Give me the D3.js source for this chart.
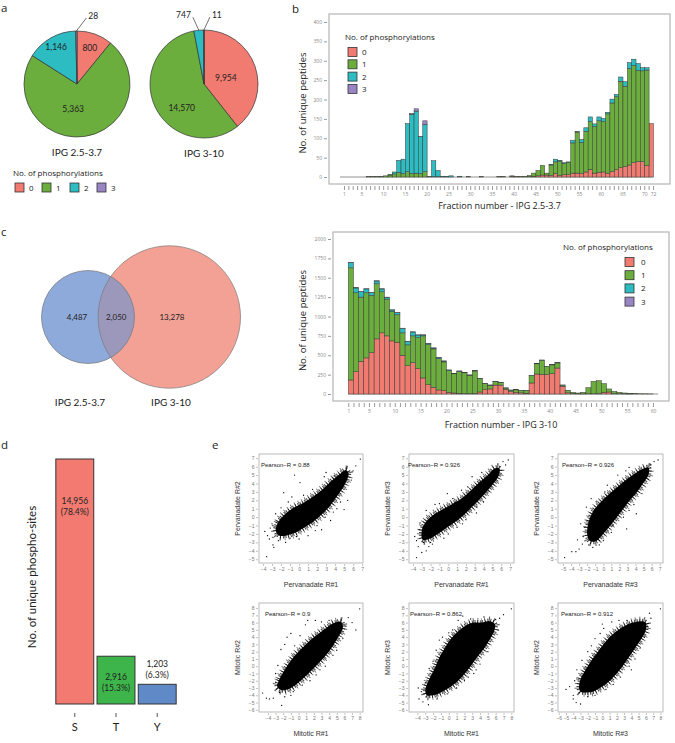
<!DOCTYPE html>
<html>
<head>
<meta charset="utf-8">
<script src="https://cdn.jsdelivr.net/npm/d3@7"></script>
<style>
body { margin: 0; background: #fff; }
svg { display: block; }
</style>
</head>
<body>
<svg id="fig" width="675" height="743"></svg>
<script>
// ---- data ----
const phosLevels = ["0", "1", "2", "3"];

// a: pies (peptides by no. of phosphorylations)
const pieNarrow = [800, 5363, 1146, 28];
const pieWide = [9954, 14570, 747, 11];
const pieTitles = ["IPG 2.5-3.7", "IPG 3-10"];

// b: IPG 2.5-3.7, fractions 1..72, one array per no. of phosphorylations
const narrowP0 = [0,0,0,0,0,0,0,0,0,0, 0,0,0,0,0,0,0,0,0,0, 0,0,0,0,0,0,0,0,0,0, 0,0,0,0,0,0,0,0,0,2,
  1,0,1,1,2,3,5,5,4,9, 4,6,6,10,10,9,13,20,10,12, 13,10,14,19,24,27,31,37,40,40, 29,138];
const narrowP1 = [0,0,0,0,0,0,1,1,1,2, 3,5,8,12,9,14,9,10,9,14, 1,1,1,1,1,0,0,0,0,1, 0,0,1,0,0,0,1,1,0,1,
  0,1,1,3,8,14,25,5,27,30, 37,29,32,78,106,80,105,123,120,133, 130,153,177,188,223,207,249,251,235,234, 247,0];
const narrowP2 = [0,0,0,0,0,0,0,0,0,0, 0,1,5,31,37,124,153,160,95,122, 0,41,16,1,1,3,0,2,0,0, 0,0,0,0,0,0,0,0,0,0,
  0,0,0,0,0,0,0,0,2,7, 2,2,1,7,1,8,9,12,7,10, 8,4,10,6,11,12,15,16,18,8, 6,0];
const narrowP3 = [0,0,0,0,0,0,0,0,0,0, 0,0,0,0,0,0,2,6,1,9, 0,0,0,0,0,0,0,0,0,0, 0,0,0,0,0,0,0,0,0,0,
  0,0,0,0,0,0,0,0,0,0, 0,0,0,0,0,0,0,0,0,0, 0,0,0,0,0,0,0,0,0,0, 0,0];
const narrowTickLabels = [1, 5, 10, 15, 20, 25, 30, 35, 40, 45, 50, 55, 60, 65, 70, 72];

// b: IPG 3-10, fractions 1..60
const wideP0 = [181,289,422,466,534,711,789,750,685,668, 500,366,405,328,207,121,86,52,43,22,
  13,9,4,4,6,26,56,65,115,115, 60,30,20,15,10,142,258,254,250,262, 335,100,15,5,2,2,3,3,5,22,
  26,5,3,2,1,0,0,0,0,0];
const wideP1 = [1447,1017,828,840,738,711,530,474,380,354, 289,268,345,400,543,517,496,405,371,281,
  248,281,270,237,291,173,78,48,46,31, 16,19,34,29,35,97,132,182,105,114, 66,15,27,17,11,20,79,160,167,111,
  39,29,19,11,7,5,3,2,1,0];
const wideP2 = [70,62,70,50,36,36,36,24,19,28, 57,45,50,33,12,15,11,15,11,6,
  5,6,5,4,4,3,3,2,3,3, 4,3,6,3,2,2,2,3,2,2, 3,1,1,0,0,0,0,0,0,0, 0,0,0,0,0,0,0,0,0,0];
const wideP3 = [2,3,3,2,2,3,3,2,2,2, 3,2,2,2,1,2,2,2,2,1, 1,1,1,1,1,1,1,1,1,1,
  0,0,0,0,0,0,0,0,0,0, 0,0,0,0,0,0,0,0,0,0, 0,0,0,0,0,0,0,0,0,0];
const wideTickLabels = [1, 5, 10, 15, 20, 25, 30, 35, 40, 45, 50, 55, 60];

// c: Venn of unique phospho-peptides
const vennCounts = [4487, 2050, 13278]; // only narrow, shared, only wide

// d: phospho-sites by residue
const siteResidues = ["S", "T", "Y"];
const siteCounts = [14956, 2916, 1203];
const sitePercents = ["78.4%", "15.3%", "6.3%"];

// e: replicate correlations; dense core outline + sparse points
const pearsonR = [0.88, 0.926, 0.926, 0.9, 0.862, 0.912];
const scatterXTitles = ["Pervanadate R#1", "Pervanadate R#1", "Pervanadate R#3", "Mitotic R#1", "Mitotic R#1", "Mitotic R#3"];
const scatterYTitles = ["Pervanadate R#2", "Pervanadate R#3", "Pervanadate R#2", "Mitotic R#2", "Mitotic R#3", "Mitotic R#2"];

const pvCore12 = [[-2.6,-1.6],[-2.3,-0.6],[-1.6,0.3],[-0.6,1.1],[0.5,1.7],[1.5,2.4],[2.5,3.2],[3.5,4.2],[4.5,5.1],[5.2,5.6],
  [5.5,5.2],[5.1,3.9],[4.3,2.6],[3.4,1.3],[2.5,0.3],[1.5,-0.6],[0.5,-1.3],[-0.5,-1.9],[-1.5,-2.2],[-2.2,-2.2]];
const pvDots12 = [[-3.6,-4.7],[-2.9,-3.3],[-2.8,-3.6],[-3.5,-2.2],[-3.8,-1.7],[-3.2,-1.3],[-2.9,-2.4],[-1.5,-3.0],[-1.7,2.9],[0.1,4.1],
  [-0.5,5.0],[6.3,6.1],[6.8,6.9],[4.2,1.0],[5.0,0.9],[3.8,0.6],[2.5,-1.5],[3.5,-0.4],[1.0,-2.2],[0.0,-2.6],
  [-1.0,-2.5],[2.8,4.8],[1.5,3.3],[3.0,5.3],[5.4,2.0],[4.6,1.8],[-0.8,2.4],[-2.0,1.1],[-3.0,-0.8],[-2.6,0.4],
  [2.0,-1.0],[5.8,4.4],[6.0,5.5],[-2.3,-2.8],[-1.2,1.8],[0.5,2.6],[3.9,4.9],[4.4,3.2],[2.9,0.0],[-0.3,-2.3],[1.8,-1.6],[-3.3,-2.6]];
const pvCore13 = [[-3.0,-1.6],[-2.5,-0.5],[-1.5,0.4],[-0.5,1.0],[0.5,1.6],[1.5,2.2],[2.5,3.1],[3.5,4.1],[4.5,5.0],[5.3,5.8],
  [5.8,5.8],[5.7,4.9],[4.9,3.7],[3.9,2.5],[2.9,1.4],[1.9,0.4],[0.9,-0.5],[-0.1,-1.2],[-1.2,-2.0],[-2.2,-2.6],[-2.9,-2.7]];
const pvDots13 = [[-3.6,-4.8],[-3.0,-4.2],[-2.5,-4.0],[-3.4,-3.5],[-3.8,-2.3],[-3.6,-2.8],[-2.2,-3.5],[-1.8,-3.2],[-0.1,2.8],[2.7,4.8],
  [6.2,6.6],[6.8,6.8],[6.5,6.2],[4.0,1.8],[3.2,1.2],[2.0,-0.3],[1.0,-1.2],[-0.5,-2.5],[-1.5,1.5],[-2.5,0.8],
  [-3.2,-0.7],[1.5,3.2],[3.8,5.3],[5.0,4.2],[4.5,3.0],[-2.0,-3.0],[0.0,-2.0],[-3.3,-1.5],[-2.8,-3.0],[-1.0,1.6],
  [0.5,2.2],[2.2,3.6],[3.2,0.5],[1.6,-0.8]];
const pvCore32 = [[-2.0,-2.0],[-1.8,-0.5],[-1.2,0.8],[-0.3,1.8],[0.8,2.8],[1.8,3.6],[2.8,4.4],[3.8,5.1],[4.8,5.7],[5.6,5.9],
  [5.6,5.0],[5.0,4.1],[4.2,3.0],[3.3,2.0],[2.5,1.0],[1.6,-0.1],[0.7,-1.2],[-0.2,-2.2],[-1.0,-2.9],[-1.7,-2.8]];
const pvDots32 = [[-4.8,-4.8],[-3.9,-4.1],[-3.4,-4.1],[-3.0,-3.8],[-2.6,-3.2],[-2.8,-0.8],[-2.5,-2.3],[-1.3,-3.6],[-2.1,1.2],[-1.5,2.2],
  [0.5,3.8],[1.8,5.0],[2.8,5.5],[3.2,5.9],[6.3,6.6],[6.8,6.8],[5.9,6.2],[4.1,0.4],[3.2,0.8],[2.9,-1.4],
  [3.8,1.5],[2.5,0.0],[1.0,-1.8],[0.0,-2.8],[-0.5,-3.3],[4.8,2.8],[-3.2,-2.7],[-2.3,-1.2],[-0.8,1.9],[0.2,3.0],[1.2,-1.0],[-1.8,-3.3]];
const miCore12 = [[-2.8,-2.8],[-2.5,-1.8],[-1.8,-0.5],[-1.0,0.8],[-0.2,1.8],[0.8,2.8],[1.8,3.8],[2.8,4.6],[3.8,5.4],[4.8,6.0],
  [5.6,6.1],[5.8,5.3],[5.3,4.2],[4.6,3.0],[3.8,1.8],[2.8,0.6],[1.8,-0.5],[0.8,-1.5],[-0.2,-2.4],[-1.2,-3.1],[-2.2,-3.3]];
const miDots12 = [[-4.2,-4.4],[-3.8,-4.5],[-3.3,-4.4],[-4.7,-3.7],[-2.2,-5.4],[-3.0,-2.2],[-2.7,0.1],[-3.0,-1.0],[-2.3,2.3],[-1.8,3.0],
  [-1.5,4.0],[-1.0,4.5],[1.2,6.3],[0.9,5.7],[2.2,6.3],[3.0,6.1],[6.5,6.7],[7.0,6.0],[7.5,5.0],[8.0,7.9],
  [4.5,1.5],[5.0,2.2],[3.5,0.0],[2.3,-1.2],[1.5,-2.0],[0.5,-2.6],[-0.7,-3.5],[-1.0,-4.0],[-2.5,-3.6],[-0.5,2.8],
  [0.2,4.2],[6.2,5.5],[5.8,3.8],[-1.8,-4.2],[4.0,6.3],[2.8,-0.5]];
const miCore13 = [[-3.0,-3.3],[-2.5,-1.8],[-1.8,-0.3],[-1.2,1.2],[-0.5,2.5],[0.3,3.8],[1.2,4.8],[2.2,5.6],[3.2,6.0],[4.2,6.0],
  [5.2,6.2],[5.9,5.8],[5.8,4.8],[5.2,3.6],[4.5,2.4],[3.6,1.2],[2.8,0.0],[1.9,-1.2],[1.0,-2.2],[0.0,-3.0],[-1.0,-3.6],[-2.0,-4.0],[-2.8,-4.0]];
const miDots13 = [[-3.8,-4.5],[-3.3,-4.9],[-2.6,-5.3],[-3.0,-2.3],[-2.5,-0.3],[-2.0,0.7],[-1.2,3.6],[-0.8,4.0],[0.5,5.0],[1.2,6.3],
  [1.8,6.9],[2.8,6.5],[4.5,6.8],[6.5,6.6],[7.0,7.1],[8.0,7.9],[5.0,2.0],[4.0,0.3],[3.2,-1.0],[2.0,-2.0],
  [1.0,-3.0],[-0.2,-3.8],[-1.5,-4.5],[-3.5,-3.5],[-2.5,-3.0],[6.3,5.0],[3.5,-0.5],[-1.6,2.2],[0.0,4.6],[2.5,-1.5],[-3.9,-3.0],[6.0,6.4]];
const miCore32 = [[-3.2,-3.0],[-3.0,-1.8],[-2.3,-0.5],[-1.5,0.8],[-0.6,2.0],[0.3,3.2],[1.2,4.2],[2.2,5.0],[3.2,5.6],[4.2,6.0],
  [5.2,6.2],[6.0,6.0],[6.0,5.0],[5.4,3.8],[4.6,2.6],[3.7,1.3],[2.8,0.0],[1.8,-1.2],[0.8,-2.2],[-0.3,-3.0],[-1.3,-3.5],[-2.3,-3.6],[-3.0,-3.5]];
const miDots32 = [[-5.0,-3.2],[-4.0,-4.0],[-4.0,-4.5],[-3.6,-5.0],[-3.0,-5.2],[-4.5,-2.8],[-3.8,-2.0],[-2.8,0.8],[-2.0,2.0],[-1.5,2.8],
  [-1.0,3.8],[0.2,5.2],[1.3,6.1],[2.3,6.3],[3.4,6.3],[6.5,7.3],[6.7,6.6],[8.0,7.9],[5.2,2.5],[4.5,1.0],
  [3.7,0.0],[2.5,-1.5],[1.5,-2.5],[0.5,-3.2],[-1.0,-4.0],[-2.0,-4.2],[6.2,5.5],[4.0,-0.5],[0.0,5.8],[-3.5,-0.5],[-0.3,4.5],[5.8,4.0]];

// ---- style ----
const phosColors = ["#f27b71", "#6cae3d", "#2cbcc2", "#9a85c4"];
const myriad = "'Open Sans', 'Noto Sans', sans-serif";
const calibri = "Lato, 'Open Sans', sans-serif";
const helv = "'Liberation Sans', Arial, sans-serif";
const ink = "#222";
const fmt = d3.format(",");

const svg = d3.select("#fig");

function addText(g, str, x, y, size, font, opts = {}) {
  const t = g.append("text").attr("x", x).attr("y", y).text(str)
    .attr("font-size", size).attr("font-family", font)
    .attr("fill", opts.fill || ink)
    .attr("text-anchor", opts.anchor || "start");
  if (opts.rotate) t.attr("transform", `rotate(-90,${x},${y})`);
  return t;
}

// panel letters
[["a", 1, 12], ["b", 292, 12.5], ["c", 1, 236], ["d", 1, 449], ["e", 212, 449]]
  .forEach(([l, x, y]) => addText(svg, l, x, y, 11.5, myriad));

// ---- a: pies ----
function drawPie(values, cx, cy, r, title, labelPos, callouts) {
  const g = svg.append("g").attr("transform", `translate(${cx},${cy})`);
  const arcs = d3.pie().sort(null)(values);
  const arc = d3.arc().innerRadius(0).outerRadius(r);
  g.selectAll("path").data(arcs).join("path")
    .attr("d", arc)
    .attr("fill", (d, i) => phosColors[i])
    .attr("stroke", "#333").attr("stroke-width", 0.7);
  const total = d3.sum(values);
  let k = 0;
  arcs.forEach((a, i) => {
    const mid = (a.startAngle + a.endAngle) / 2;
    if (a.value / total > 0.04) {
      const [f, shift] = labelPos[i];
      const ang = mid + shift * Math.PI / 180;
      addText(g, fmt(a.value), r * f * Math.sin(ang), -r * f * Math.cos(ang) + 3, 8.5, calibri, {anchor: "middle"});
    } else {
      const c = callouts[k++];
      const sx = r * Math.sin(mid), sy = -r * Math.cos(mid);
      g.append("line").attr("x1", sx).attr("y1", sy).attr("x2", sx + c[0]).attr("y2", sy + c[1])
        .attr("stroke", "#333").attr("stroke-width", 0.7);
      addText(g, fmt(a.value), sx + c[0] + (c[0] > 0 ? 2 : -2), sy + c[1] + 1,
        8.5, calibri, {anchor: c[0] > 0 ? "start" : "end"});
    }
  });
  addText(g, title, 0, r + 19, 10, calibri, {anchor: "middle"});
}
drawPie(pieNarrow, 77, 84, 53, pieTitles[0], [[0.72, 0], [0.47, 18], [0.8, 0]], [[10, -13]]);
drawPie(pieWide, 204, 84, 54, pieTitles[1], [[0.42, 4], [0.6, -22]], [[-6, -13], [6, -13]]);

// legend under pies
{
  const g = svg.append("g");
  addText(g, "No. of phosphorylations", 13, 176, 8, myriad);
  const bx = [15, 42, 70, 97];
  phosLevels.forEach((lv, i) => {
    g.append("rect").attr("x", bx[i]).attr("y", 183).attr("width", 9).attr("height", 9)
      .attr("fill", phosColors[i]).attr("stroke", "#333").attr("stroke-width", 0.8);
    addText(g, lv, bx[i] + 14, 191, 8, myriad);
  });
}

// ---- b: stacked bars ----
function phosLegend(x, y, boxX, gap, labelX) {
  const g = svg.append("g");
  addText(g, "No. of phosphorylations", x, y, 8, myriad);
  phosLevels.forEach((lv, i) => {
    const cy = y + 12 + i * gap;
    g.append("rect").attr("x", boxX).attr("y", cy - 4.5).attr("width", 9).attr("height", 9)
      .attr("fill", phosColors[i]).attr("stroke", "#333").attr("stroke-width", 0.8);
    addText(g, lv, labelX, cy + 3, 8, myriad);
  });
}

function stackedBars(cfg) {
  const g = svg.append("g");
  const [fx0, fx1, fy0, fy1] = cfg.frame;
  const n = cfg.layers[0].length;
  const x = d3.scaleLinear().domain([1, n]).range(cfg.xRange);
  const y = d3.scaleLinear().domain([0, cfg.yMax]).range(cfg.yRange);
  const step = x(2) - x(1);
  const rows = d3.range(n).map(i => {
    const o = {frac: i + 1};
    phosLevels.forEach((lv, j) => { o[lv] = cfg.layers[j][i]; });
    return o;
  });
  const series = d3.stack().keys(phosLevels)(rows);

  g.append("rect").attr("x", fx0).attr("y", fy0).attr("width", fx1 - fx0).attr("height", fy1 - fy0)
    .attr("fill", "none").attr("stroke", "#b5b5b5").attr("stroke-width", 1.2);

  // outline of empty fractions along zero
  g.append("line")
    .attr("x1", x(1 + cfg.shift) - step / 2).attr("x2", x(n + cfg.shift) + step / 2)
    .attr("y1", y(0)).attr("y2", y(0))
    .attr("stroke", "#777").attr("stroke-width", 0.8);

  g.selectAll("g.layer").data(series).join("g")
    .attr("class", "layer")
    .attr("fill", (d, i) => phosColors[i])
    .selectAll("rect").data(d => d.filter(v => v[1] > v[0])).join("rect")
    .attr("x", d => x(d.data.frac + cfg.shift) - step / 2)
    .attr("width", step)
    .attr("y", d => y(d[1]))
    .attr("height", d => y(d[0]) - y(d[1]))
    .attr("stroke", "#3a3a3a").attr("stroke-width", 0.5);

  const ya = g.append("g").attr("transform", `translate(${fx0 - 2},0)`)
    .call(d3.axisLeft(y).tickValues(d3.range(0, cfg.yMax + 1, cfg.yStep)).tickSize(3).tickPadding(2)
      .tickFormat(d3.format("d")));
  ya.select(".domain").remove();
  ya.selectAll("line").attr("stroke", "#999");
  ya.selectAll("text").attr("font-size", 5).attr("font-family", myriad).attr("fill", "#888");

  const xa = g.append("g").attr("transform", `translate(0,${fy1 + 2})`)
    .call(d3.axisBottom(x).tickValues(d3.range(1, n + 1)).tickSize(4).tickPadding(2)
      .tickFormat(d => cfg.xLabels.includes(d) ? d : ""));
  xa.select(".domain").remove();
  xa.selectAll("line").attr("stroke", "#999");
  xa.selectAll("text").attr("font-size", 5).attr("font-family", myriad).attr("fill", "#888");

  addText(g, cfg.xTitle, (fx0 + fx1) / 2, cfg.xTitleY, 9, myriad, {anchor: "middle"});
  addText(g, "No. of unique peptides", cfg.yTitleX, (fy0 + fy1) / 2 + 4, 9.5, myriad, {anchor: "middle", rotate: true});
}

stackedBars({
  layers: [narrowP0, narrowP1, narrowP2, narrowP3],
  frame: [329, 670, 14, 184], xRange: [344, 653], yRange: [177, 22],
  yMax: 400, yStep: 50, shift: -0.4, xLabels: narrowTickLabels,
  xTitle: "Fraction number - IPG 2.5-3.7", xTitleY: 209, yTitleX: 306
});
phosLegend(345, 40, 348, 12.3, 362);

stackedBars({
  layers: [wideP0, wideP1, wideP2, wideP3],
  frame: [333, 669, 232, 401], xRange: [348.3, 653], yRange: [394, 239],
  yMax: 2000, yStep: 250, shift: 0.5, xLabels: wideTickLabels,
  xTitle: "Fraction number - IPG 3-10", xTitleY: 428, yTitleX: 306
});
phosLegend(563, 250, 625, 13.2, 641);

// ---- c: Venn ----
{
  const g = svg.append("g");
  const k = 46.5 / Math.sqrt(vennCounts[0] + vennCounts[1]);
  const rA = k * Math.sqrt(vennCounts[0] + vennCounts[1]);
  const rB = k * Math.sqrt(vennCounts[1] + vennCounts[2]);
  const cA = [88, 317], cB = [169.3, 317];
  g.append("clipPath").attr("id", "clipB").append("circle").attr("cx", cB[0]).attr("cy", cB[1]).attr("r", rB);
  g.append("circle").attr("cx", cB[0]).attr("cy", cB[1]).attr("r", rB).attr("fill", "#f4a195");
  g.append("circle").attr("cx", cA[0]).attr("cy", cA[1]).attr("r", rA).attr("fill", "#8eaadb");
  g.append("circle").attr("cx", cA[0]).attr("cy", cA[1]).attr("r", rA).attr("fill", "#9c98bb").attr("clip-path", "url(#clipB)");
  g.append("circle").attr("cx", cB[0]).attr("cy", cB[1]).attr("r", rB).attr("fill", "none").attr("stroke", "#7a7a7a").attr("stroke-width", 0.7);
  g.append("circle").attr("cx", cA[0]).attr("cy", cA[1]).attr("r", rA).attr("fill", "none").attr("stroke", "#7a7a7a").attr("stroke-width", 0.7);
  const overlapMid = (cA[0] + rA + cB[0] - rB) / 2;
  addText(g, fmt(vennCounts[0]), 77, 320, 8, calibri, {anchor: "middle"});
  addText(g, fmt(vennCounts[1]), overlapMid, 320, 8, calibri, {anchor: "middle"});
  addText(g, fmt(vennCounts[2]), 172, 320, 8, calibri, {anchor: "middle"});
  addText(g, pieTitles[0], 80, 406, 10, calibri, {anchor: "middle"});
  addText(g, pieTitles[1], 171, 406, 10, calibri, {anchor: "middle"});
}

// ---- d: residues ----
{
  const g = svg.append("g");
  const siteColors = ["#f27a70", "#3db54a", "#6089c8"];
  const x = d3.scaleBand().domain(siteResidues).range([55, 177]).paddingInner(0.08).paddingOuter(0.02);
  const y = d3.scaleLinear().domain([0, siteCounts[0]]).range([704, 459]);
  g.selectAll("rect").data(siteCounts).join("rect")
    .attr("x", (d, i) => x(siteResidues[i]))
    .attr("width", x.bandwidth())
    .attr("y", d => y(d))
    .attr("height", d => y(0) - y(d))
    .attr("fill", (d, i) => siteColors[i])
    .attr("stroke", "#333").attr("stroke-width", 1);
  siteCounts.forEach((v, i) => {
    const cx = x(siteResidues[i]) + x.bandwidth() / 2;
    const h = y(0) - y(v);
    const ly = h > 100 ? y(v) + 45 : (h > 30 ? y(v) + 24 : y(v) - 17);
    addText(g, fmt(v), cx, ly, 8.5, calibri, {anchor: "middle"});
    addText(g, `(${sitePercents[i]})`, cx, ly + 11, 8.5, calibri, {anchor: "middle"});
    g.append("line").attr("x1", cx).attr("x2", cx).attr("y1", 713).attr("y2", 717).attr("stroke", "#555");
    addText(g, siteResidues[i], cx, 731, 11, calibri, {anchor: "middle"});
  });
  addText(g, "No. of unique phospho-sites", 36, 577, 11.5, calibri, {anchor: "middle", rotate: true});
}

// ---- e: scatter plots ----
function scatter(cfg) {
  const g = svg.append("g");
  const [x0, x1] = cfg.fx, [y0, y1] = cfg.fy;
  const x = d3.scaleLinear().domain(cfg.xDom).range([x0, x1]);
  const y = d3.scaleLinear().domain(cfg.yDom).range([y1, y0]);
  const outline = d3.line().x(d => x(d[0])).y(d => y(d[1])).curve(d3.curveCatmullRomClosed);
  // dense core, with a dotted fringe so the edge reads as points
  g.append("path").datum(cfg.core).attr("d", outline)
    .attr("fill", "none").attr("stroke", "#000").attr("stroke-width", 5)
    .attr("stroke-dasharray", "0.9 1.7").attr("opacity", 0.8);
  g.append("path").datum(cfg.core).attr("d", outline)
    .attr("fill", "none").attr("stroke", "#000").attr("stroke-width", 9)
    .attr("stroke-dasharray", "0.8 3.1").attr("opacity", 0.6);
  g.append("path").datum(cfg.core).attr("d", outline).attr("fill", "#000");
  g.selectAll("circle").data(cfg.dots).join("circle")
    .attr("cx", d => x(d[0])).attr("cy", d => y(d[1])).attr("r", 0.65).attr("fill", "#000");
  g.append("rect").attr("x", x0).attr("y", y0).attr("width", x1 - x0).attr("height", y1 - y0)
    .attr("fill", "none").attr("stroke", "#aaa").attr("stroke-width", 0.8);

  const xa = g.append("g").attr("transform", `translate(0,${y1 + 1})`)
    .call(d3.axisBottom(x).tickValues(d3.range(cfg.xTicks[0], cfg.xTicks[1] + 1)).tickSize(2).tickPadding(1.5));
  const ya = g.append("g").attr("transform", `translate(${x0 - 1},0)`)
    .call(d3.axisLeft(y).tickValues(d3.range(cfg.yTicks[0], cfg.yTicks[1] + 1)).tickSize(2).tickPadding(1.5));
  [xa, ya].forEach(a => {
    a.select(".domain").remove();
    a.selectAll("line").attr("stroke", "#999").attr("stroke-width", 0.6);
    a.selectAll("text").attr("font-size", 5).attr("font-family", helv).attr("fill", "#777");
  });
  addText(g, cfg.xTitle, (x0 + x1) / 2, y1 + 24, 7, helv, {anchor: "middle", fill: "#333"});
  addText(g, cfg.yTitle, x0 - 19, (y0 + y1) / 2, 7, helv, {anchor: "middle", fill: "#333", rotate: true});
  addText(g, `Pearson\u2212R = ${cfg.r}`, x0 + cfg.rDx, y0 + 13, 6, helv, {fill: "#222"});
}

const scatterFramesX = [[259, 363], [409, 514], [558, 663]];
const scatterFramesY = [[454, 563], [603, 712]];
const scatterCores = [pvCore12, pvCore13, pvCore32, miCore12, miCore13, miCore32];
const scatterDots = [pvDots12, pvDots13, pvDots32, miDots12, miDots13, miDots32];
const scatterXDom = [[-4.45, 7.1], [-4.45, 7.45], [-5.62, 7.41], [-5.17, 8.43], [-5.08, 8.34], [-6.1, 8.36]];
const scatterXTicks = [[-4, 7], [-4, 7], [-5, 7], [-4, 8], [-4, 8], [-6, 8]];
const pearsonDx = [2, -1, 4, 6, 1, 3];
scatterCores.forEach((core, i) => {
  const row = i < 3 ? 0 : 1;
  scatter({
    fx: scatterFramesX[i % 3], fy: scatterFramesY[row],
    xDom: scatterXDom[i], yDom: row === 0 ? [-5.45, 7.5] : [-6.3, 8.7],
    xTicks: scatterXTicks[i], yTicks: row === 0 ? [-5, 7] : [-6, 8],
    core: core, dots: scatterDots[i],
    xTitle: scatterXTitles[i], yTitle: scatterYTitles[i],
    r: pearsonR[i], rDx: pearsonDx[i]
  });
});
</script>
</body>
</html>
